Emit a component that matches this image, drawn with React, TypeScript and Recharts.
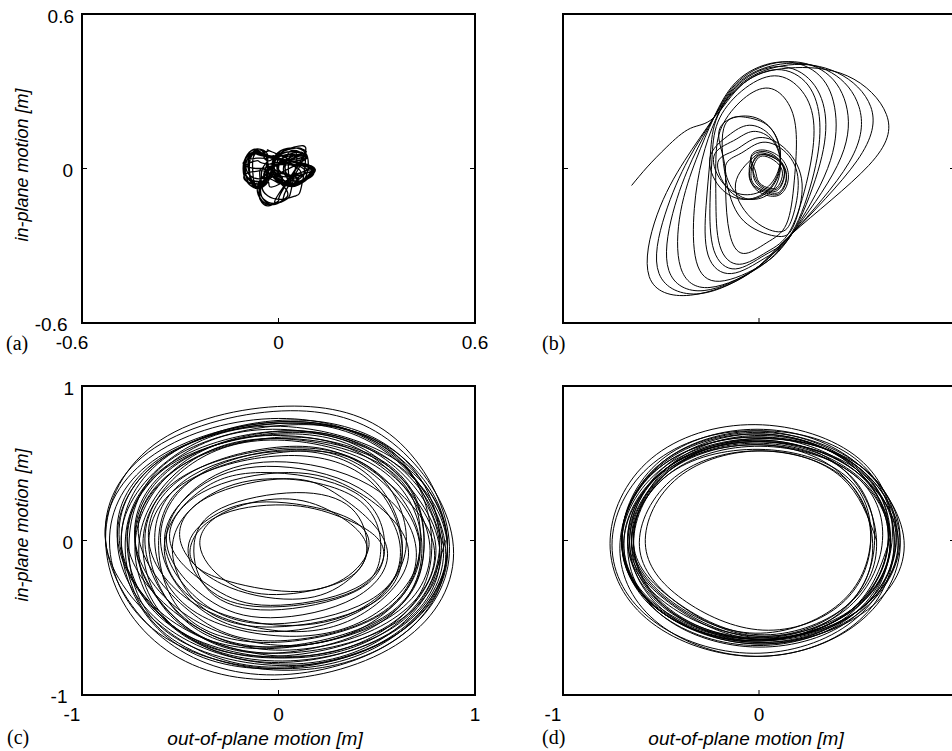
import React from 'react';
import { LineChart, Line, XAxis, YAxis } from 'recharts';

type Pair = [number, number];

// axis ticks
const ticksSmall = [-0.6, 0, 0.6];
const ticksUnit = [-1, 0, 1];

// (a) small response: two lobes, a small ear between them and a lower tail
const pathA: Pair[] = [
  [-0.020, 0.000], [-0.033, -0.054], [-0.064, -0.076], [-0.095, -0.054], [-0.108, 0.000], [-0.095, 0.054], [-0.064, 0.076], [-0.033, 0.054],
  [-0.039, 0.000], [-0.046, -0.050], [-0.064, -0.070], [-0.082, -0.050], [-0.089, 0.000], [-0.082, 0.050], [-0.064, 0.070], [-0.046, 0.050],
  [0.100, 0.010], [0.083, -0.040], [0.040, -0.060], [-0.003, -0.040], [-0.020, 0.010], [-0.003, 0.060], [0.040, 0.080], [0.083, 0.060],
  [0.090, 0.000], [0.077, -0.043], [0.045, -0.060], [0.013, -0.043], [0.000, 0.000], [0.013, 0.043], [0.045, 0.060], [0.077, 0.043],
  [0.025, -0.080], [0.012, -0.123], [-0.020, -0.140], [-0.052, -0.123], [-0.065, -0.080], [-0.052, -0.037], [-0.020, -0.020], [0.012, -0.037],
  [-0.026, 0.008], [-0.038, -0.035], [-0.066, -0.052], [-0.094, -0.035], [-0.106, 0.008], [-0.094, 0.051], [-0.066, 0.068], [-0.038, 0.051],
  [0.098, 0.010], [0.084, -0.018], [0.048, -0.030], [0.012, -0.018], [-0.002, 0.010], [0.012, 0.038], [0.048, 0.050], [0.084, 0.038],
  [-0.020, 0.010], [-0.032, -0.026], [-0.060, -0.040], [-0.088, -0.026], [-0.100, 0.010], [-0.088, 0.046], [-0.060, 0.060], [-0.032, 0.046],
  [0.097, 0.005], [0.081, -0.046], [0.042, -0.067], [0.003, -0.046], [-0.013, 0.005], [0.003, 0.056], [0.042, 0.077], [0.081, 0.056],
  [0.070, -0.070], [0.053, -0.106], [0.010, -0.120], [-0.033, -0.106], [-0.050, -0.070], [-0.033, -0.034], [0.010, -0.020], [0.053, -0.034],
  [-0.031, -0.005], [-0.041, -0.056], [-0.066, -0.077], [-0.091, -0.056], [-0.101, -0.005], [-0.091, 0.046], [-0.066, 0.067], [-0.041, 0.046],
  [-0.015, 0.050], [-0.019, 0.036], [-0.030, 0.030], [-0.041, 0.036], [-0.045, 0.050], [-0.041, 0.064], [-0.030, 0.070], [-0.019, 0.064],
  [0.080, 0.005], [0.071, -0.027], [0.050, -0.040], [0.029, -0.027], [0.020, 0.005], [0.029, 0.037], [0.050, 0.050], [0.071, 0.037],
  [0.010, -0.090], [0.000, -0.126], [-0.025, -0.140], [-0.050, -0.126], [-0.060, -0.090], [-0.050, -0.054], [-0.025, -0.040], [0.000, -0.054],
  [-0.050, 0.000], [-0.056, -0.053], [-0.070, -0.074], [-0.084, -0.053], [-0.090, 0.000], [-0.084, 0.053], [-0.070, 0.074], [-0.056, 0.053],
  [0.070, 0.005], [0.063, -0.041], [0.045, -0.060], [0.027, -0.041], [0.020, 0.005], [0.027, 0.051], [0.045, 0.070], [0.063, 0.051],
  [-0.020, 0.005], [-0.032, -0.041], [-0.062, -0.060], [-0.092, -0.041], [-0.104, 0.005], [-0.092, 0.051], [-0.062, 0.070], [-0.032, 0.051],
  [0.098, 0.000], [0.081, -0.046], [0.040, -0.065], [-0.001, -0.046], [-0.018, 0.000], [-0.001, 0.046], [0.040, 0.065], [0.081, 0.046],
  [-0.020, 0.020], [-0.033, 0.006], [-0.064, 0.000], [-0.095, 0.006], [-0.108, 0.020], [-0.095, 0.034], [-0.064, 0.040], [-0.033, 0.034],
  [-0.049, 0.000], [-0.053, -0.050], [-0.064, -0.070], [-0.075, -0.050], [-0.079, 0.000], [-0.075, 0.050], [-0.064, 0.070], [-0.053, 0.050],
  [0.095, 0.012], [0.081, -0.038], [0.045, -0.058], [0.009, -0.038], [-0.005, 0.012], [0.009, 0.062], [0.045, 0.082], [0.081, 0.062],
  [0.000, -0.100], [-0.009, -0.132], [-0.030, -0.145], [-0.051, -0.132], [-0.060, -0.100], [-0.051, -0.068], [-0.030, -0.055], [-0.009, -0.068],
  [0.095, 0.000], [0.083, -0.036], [0.055, -0.050], [0.027, -0.036], [0.015, 0.000], [0.027, 0.036], [0.055, 0.050], [0.083, 0.036],
  [-0.022, -0.035], [-0.034, -0.053], [-0.064, -0.060], [-0.094, -0.053], [-0.106, -0.035], [-0.094, -0.017], [-0.064, -0.010], [-0.034, -0.017],
  [0.025, -0.085], [0.013, -0.124], [-0.015, -0.140], [-0.043, -0.124], [-0.055, -0.085], [-0.043, -0.046], [-0.015, -0.030], [0.013, -0.046],
  [-0.018, -0.010], [-0.031, -0.038], [-0.062, -0.050], [-0.093, -0.038], [-0.106, -0.010], [-0.093, 0.018], [-0.062, 0.030], [-0.031, 0.018],
  [0.098, 0.005], [0.081, -0.048], [0.040, -0.070], [-0.001, -0.048], [-0.018, 0.005], [-0.001, 0.058], [0.040, 0.080], [0.081, 0.058],
  [-0.023, 0.005], [-0.033, -0.041], [-0.065, -0.060], [-0.083, -0.041], [-0.093, 0.005], [-0.083, 0.051], [-0.051, 0.070], [-0.033, 0.051],
  [0.060, 0.000], [0.056, -0.043], [0.045, -0.060], [0.034, -0.043], [0.030, 0.000], [0.034, 0.043], [0.045, 0.060], [0.056, 0.043],
  [0.040, -0.075], [0.026, -0.118], [-0.010, -0.135], [-0.046, -0.118], [-0.060, -0.075], [-0.046, -0.032], [-0.010, -0.015], [0.026, -0.032],
  [0.098, -0.005], [0.081, -0.048], [0.038, -0.065], [-0.005, -0.048], [-0.022, -0.005], [-0.005, 0.038], [0.038, 0.055], [0.081, 0.038],
  [-0.030, 0.000], [-0.039, -0.053], [-0.060, -0.075], [-0.081, -0.053], [-0.090, 0.000], [-0.081, 0.053], [-0.060, 0.075], [-0.039, 0.053],
  [-0.030, 0.000],
];

// (b) transient: tail, large tilted loops through a common pinch, then inner loops
const pathB: Pair[] = [
  [-0.65, -0.11], [-0.57, 0.01], [-0.47, 0.14], [-0.35, 0.26],
  [-0.23, 0.33], [-0.08, 0.55], [0.15, 0.65], [0.45, 0.60], [0.65, 0.35], [0.56, 0.02], [0.17, -0.42], [-0.05, -0.68], [-0.35, -0.82], [-0.56, -0.70], [-0.52, -0.30], [-0.38, 0.05],
  [-0.23, 0.33], [-0.08, 0.56], [0.15, 0.67], [0.40, 0.62], [0.57, 0.40], [0.50, 0.05], [0.17, -0.42], [-0.03, -0.66], [-0.30, -0.81], [-0.51, -0.68], [-0.48, -0.30], [-0.36, 0.06],
  [-0.23, 0.33], [-0.09, 0.57], [0.14, 0.68], [0.37, 0.62], [0.51, 0.40], [0.46, 0.04], [0.17, -0.42], [-0.02, -0.65], [-0.28, -0.79], [-0.46, -0.66], [-0.44, -0.29], [-0.34, 0.06],
  [-0.23, 0.33], [-0.10, 0.57], [0.12, 0.69], [0.34, 0.62], [0.45, 0.38], [0.40, 0.02], [0.17, -0.42], [0.00, -0.64], [-0.25, -0.77], [-0.40, -0.64], [-0.40, -0.28], [-0.32, 0.06],
  [-0.23, 0.33], [-0.10, 0.58], [0.12, 0.69], [0.31, 0.60], [0.39, 0.36], [0.35, 0.00], [0.17, -0.42], [0.02, -0.62], [-0.20, -0.73], [-0.32, -0.60], [-0.33, -0.26], [-0.29, 0.06],
  [-0.22, 0.32], [-0.10, 0.55], [0.10, 0.66], [0.27, 0.56], [0.34, 0.32], [0.30, -0.02], [0.17, -0.42], [0.03, -0.58], [-0.14, -0.68], [-0.26, -0.56], [-0.27, -0.24], [-0.25, 0.06],
  [-0.22, 0.31], [-0.10, 0.53], [0.09, 0.64], [0.25, 0.54], [0.31, 0.30], [0.28, -0.03], [0.17, -0.41], [0.03, -0.56], [-0.12, -0.65], [-0.23, -0.53], [-0.25, -0.22], [-0.24, 0.06],
  [-0.21, 0.30], [-0.09, 0.50], [0.08, 0.60], [0.22, 0.50], [0.28, 0.28], [0.25, -0.05], [0.16, -0.40], [0.04, -0.54], [-0.10, -0.62], [-0.20, -0.50], [-0.22, -0.20], [-0.22, 0.06],
  [-0.19, 0.27], [-0.08, 0.45], [0.05, 0.52], [0.15, 0.42], [0.19, 0.22], [0.18, -0.08], [0.14, -0.36], [0.04, -0.48], [-0.08, -0.55], [-0.15, -0.42], [-0.17, -0.15], [-0.18, 0.06],
  [-0.20, 0.26], [-0.07, 0.34], [0.06, 0.26], [0.11, 0.07], [0.06, -0.12], [-0.07, -0.20], [-0.20, -0.12], [-0.25, 0.07],
  [-0.16, 0.21], [-0.05, 0.28], [0.06, 0.21], [0.11, 0.04], [0.06, -0.13], [-0.05, -0.20], [-0.16, -0.13], [-0.21, 0.04],
  [-0.12, 0.12], [0.00, 0.20], [0.14, 0.12], [0.22, -0.10], [0.18, -0.36], [0.10, -0.44], [-0.06, -0.36], [-0.16, -0.12],
  [-0.18, 0.26], [-0.06, 0.33], [0.06, 0.26], [0.11, 0.08], [0.06, -0.10], [-0.06, -0.17], [-0.18, -0.10], [-0.23, 0.08],
  [-0.13, 0.18], [-0.03, 0.24], [0.07, 0.18], [0.11, 0.02], [0.07, -0.14], [-0.03, -0.20], [-0.13, -0.14], [-0.17, 0.02],
  [-0.09, 0.10], [0.02, 0.17], [0.14, 0.10], [0.20, -0.08], [0.17, -0.32], [0.10, -0.41], [-0.04, -0.32], [-0.12, -0.10],
  [-0.03, 0.07], [0.02, 0.10], [0.10, 0.06], [0.14, -0.04], [0.12, -0.13], [0.07, -0.16], [-0.02, -0.11], [-0.04, -0.02],
  [-0.02, 0.07], [0.03, 0.09], [0.10, 0.05], [0.13, -0.03], [0.11, -0.12], [0.06, -0.15], [-0.01, -0.10], [-0.03, -0.01],
  [-0.01, 0.06], [0.03, 0.08], [0.09, 0.04], [0.12, -0.03], [0.10, -0.11], [0.06, -0.13], [0.00, -0.09], [-0.02, -0.01],
  [-0.04, 0.07], [0.02, 0.11], [0.10, 0.06], [0.14, -0.05], [0.12, -0.14], [0.07, -0.17], [-0.02, -0.12], [-0.05, -0.03],
  [-0.02, 0.06], [0.03, 0.09], [0.10, 0.05], [0.13, -0.02], [0.11, -0.11], [0.06, -0.14], [0.00, -0.10], [-0.03, -0.02],
  [-0.04, 0.08], [0.02, 0.12], [0.11, 0.07], [0.15, -0.04], [0.13, -0.14], [0.07, -0.18], [-0.02, -0.13], [-0.05, -0.02],
  [-0.04, 0.07],
];

// (c) broad irregular orbit, listed half-turn by half-turn (lower half, then upper half)
const pathC: Pair[] = [
  [0.85, 0.00], [0.61, -0.54], [-0.01, -0.76], [-0.55, -0.54],
  [-0.82, 0.02], [-0.58, 0.55], [0.07, 0.76], [0.62, 0.55],
  [0.86, -0.03], [0.61, -0.60], [0.03, -0.83], [-0.61, -0.60],
  [-0.86, -0.01], [-0.61, 0.54], [0.05, 0.77], [0.59, 0.54],
  [0.84, -0.04], [0.61, -0.57], [0.02, -0.78], [-0.53, -0.57],
  [-0.73, -0.02], [-0.51, 0.48], [-0.03, 0.68], [0.57, 0.48],
  [0.74, -0.05], [0.53, -0.50], [-0.06, -0.69], [-0.49, -0.50],
  [-0.66, -0.03], [-0.47, 0.38], [0.05, 0.55], [0.47, 0.38],
  [0.63, -0.06], [0.46, -0.42], [-0.03, -0.56], [-0.40, -0.42],
  [-0.54, -0.04], [-0.38, 0.27], [-0.03, 0.40], [0.40, 0.27],
  [0.52, -0.07], [0.38, -0.33], [-0.03, -0.43], [-0.34, -0.33],
  [-0.46, -0.05], [-0.33, 0.16], [-0.06, 0.25], [0.33, 0.16],
  [0.46, -0.04], [0.33, -0.25], [0.06, -0.33], [-0.29, -0.25],
  [-0.45, -0.09], [-0.32, 0.15], [0.03, 0.23], [0.32, 0.15],
  [0.53, -0.04], [0.39, -0.31], [-0.04, -0.42], [-0.33, -0.31],
  [-0.55, -0.02], [-0.39, 0.31], [0.05, 0.44], [0.41, 0.31],
  [0.66, -0.05], [0.48, -0.43], [0.09, -0.59], [-0.40, -0.43],
  [-0.66, -0.01], [-0.46, 0.43], [0.09, 0.61], [0.50, 0.43],
  [0.79, -0.03], [0.58, -0.51], [0.02, -0.71], [-0.48, -0.51],
  [-0.77, 0.00], [-0.54, 0.51], [-0.03, 0.72], [0.58, 0.51],
  [0.86, -0.04], [0.62, -0.59], [-0.01, -0.82], [-0.56, -0.59],
  [-0.88, -0.01], [-0.63, 0.56], [0.00, 0.79], [0.59, 0.56],
  [0.86, -0.03], [0.62, -0.58], [0.05, -0.81], [-0.58, -0.58],
  [-0.76, 0.01], [-0.53, 0.54], [0.10, 0.75], [0.61, 0.54],
  [0.78, -0.05], [0.56, -0.55], [-0.04, -0.75], [-0.54, -0.55],
  [-0.71, -0.02], [-0.50, 0.46], [-0.04, 0.66], [0.56, 0.46],
  [0.72, -0.04], [0.52, -0.48], [-0.04, -0.66], [-0.48, -0.48],
  [-0.61, 0.00], [-0.42, 0.41], [0.13, 0.58], [0.52, 0.41],
  [0.65, -0.03], [0.47, -0.40], [0.07, -0.55], [-0.41, -0.40],
  [-0.58, -0.02], [-0.41, 0.31], [-0.09, 0.44], [0.39, 0.31],
  [0.54, -0.05], [0.39, -0.33], [-0.04, -0.45], [-0.35, -0.33],
  [-0.43, -0.03], [-0.29, 0.21], [0.09, 0.31], [0.37, 0.21],
  [0.45, -0.05], [0.33, -0.26], [-0.01, -0.35], [-0.27, -0.26],
  [-0.40, -0.03], [-0.28, 0.18], [0.02, 0.27], [0.28, 0.18],
  [0.45, -0.04], [0.33, -0.28], [0.07, -0.38], [-0.29, -0.28],
  [-0.50, 0.00], [-0.36, 0.28], [0.04, 0.40], [0.32, 0.28],
  [0.55, -0.04], [0.39, -0.37], [-0.04, -0.50], [-0.37, -0.37],
  [-0.57, -0.01], [-0.40, 0.36], [-0.02, 0.51], [0.46, 0.36],
  [0.70, -0.05], [0.51, -0.48], [-0.02, -0.65], [-0.43, -0.48],
  [-0.71, 0.01], [-0.50, 0.48], [0.05, 0.67], [0.52, 0.48],
  [0.80, -0.03], [0.58, -0.54], [0.07, -0.75], [-0.52, -0.54],
  [-0.81, 0.00], [-0.58, 0.54], [0.05, 0.76], [0.58, 0.54],
  [0.85, -0.05], [0.61, -0.63], [-0.02, -0.87], [-0.59, -0.63],
  [-0.88, 0.00], [-0.63, 0.60], [0.06, 0.84], [0.61, 0.60],
  [0.89, -0.04], [0.63, -0.65], [-0.04, -0.90], [-0.63, -0.65],
  [-0.88, 0.01], [-0.60, 0.65], [0.08, 0.87], [0.62, 0.63],
  [0.87, -0.04], [0.63, -0.61], [0.06, -0.84], [-0.57, -0.61],
  [-0.78, -0.01], [-0.55, 0.50], [0.05, 0.71], [0.59, 0.50],
  [0.83, -0.03], [0.60, -0.53], [0.00, -0.73], [-0.50, -0.53],
  [-0.73, 0.00], [-0.51, 0.47], [-0.01, 0.66], [0.57, 0.47],
  [0.74, -0.06], [0.53, -0.51], [-0.06, -0.70], [-0.53, -0.51],
  [-0.69, -0.02], [-0.48, 0.42], [0.09, 0.60], [0.52, 0.42],
  [0.72, -0.04], [0.52, -0.45], [0.09, -0.62], [-0.44, -0.45],
  [-0.63, 0.02], [-0.44, 0.42], [0.05, 0.58], [0.46, 0.42],
  [0.63, -0.02], [0.46, -0.39], [-0.03, -0.54], [-0.40, -0.39],
  [-0.58, 0.00], [-0.41, 0.34], [-0.06, 0.48], [0.41, 0.34],
  [0.62, -0.05], [0.45, -0.43], [-0.02, -0.59], [-0.41, -0.43],
  [-0.60, -0.01], [-0.41, 0.42], [0.09, 0.59], [0.49, 0.42],
  [0.72, -0.04], [0.52, -0.49], [0.06, -0.68], [-0.46, -0.49],
  [-0.73, 0.00], [-0.52, 0.50], [0.07, 0.70], [0.54, 0.50],
  [0.82, -0.05], [0.59, -0.58], [0.00, -0.79], [-0.51, -0.58],
  [-0.80, -0.02], [-0.56, 0.52], [-0.03, 0.74], [0.60, 0.52],
  [0.86, -0.03], [0.61, -0.60], [-0.04, -0.83], [-0.59, -0.60],
  [-0.80, 0.00], [-0.56, 0.55], [0.06, 0.78], [0.62, 0.55],
  [0.82, -0.04], [0.59, -0.55], [0.06, -0.76], [-0.55, -0.55],
  [-0.77, -0.01], [-0.55, 0.49], [0.05, 0.69], [0.53, 0.49],
  [0.77, -0.03], [0.56, -0.50], [-0.01, -0.69], [-0.48, -0.50],
  [-0.68, 0.01], [-0.48, 0.46], [-0.04, 0.65], [0.52, 0.46],
  [0.73, -0.05], [0.52, -0.53], [-0.05, -0.73], [-0.50, -0.53],
  [-0.73, -0.01], [-0.51, 0.50], [0.07, 0.71], [0.57, 0.50],
  [0.82, -0.04], [0.59, -0.58], [0.05, -0.80], [-0.55, -0.58],
  [-0.82, -0.01], [-0.58, 0.54], [0.06, 0.77], [0.60, 0.54],
  [0.84, -0.03],
];

// (d) settled, narrow-band orbit
const pathD: Pair[] = [
  [0.67, 0.02], [0.47, -0.45], [0.00, -0.64], [-0.44, -0.42], [-0.66, -0.03], [-0.47, 0.45], [0.00, 0.64], [0.47, 0.45],
  [0.66, 0.02], [0.47, -0.45], [0.01, -0.64], [-0.45, -0.45], [-0.64, 0.00], [-0.45, 0.49], [0.01, 0.68], [0.47, 0.49],
  [0.66, 0.01], [0.46, -0.46], [-0.02, -0.65], [-0.50, -0.46], [-0.70, 0.01], [-0.50, 0.48], [-0.02, 0.67], [0.46, 0.48],
  [0.71, 0.01], [0.51, -0.45], [0.02, -0.64], [-0.47, -0.45], [-0.67, 0.01], [-0.47, 0.47], [0.02, 0.66], [0.51, 0.47],
  [0.67, -0.02], [0.48, -0.50], [0.00, -0.69], [-0.48, -0.50], [-0.67, -0.04], [-0.48, 0.46], [0.00, 0.65], [0.48, 0.46],
  [0.70, 0.02], [0.50, -0.46], [0.00, -0.66], [-0.50, -0.46], [-0.70, 0.00], [-0.50, 0.50], [0.00, 0.70], [0.50, 0.50],
  [0.72, 0.02], [0.51, -0.47], [0.01, -0.67], [-0.49, -0.47], [-0.70, 0.00], [-0.49, 0.51], [0.01, 0.71], [0.51, 0.51],
  [0.69, -0.03], [0.49, -0.54], [-0.01, -0.75], [-0.51, -0.54], [-0.71, -0.05], [-0.51, 0.48], [-0.01, 0.69], [0.49, 0.48],
  [0.69, -0.01], [0.48, -0.52], [-0.03, -0.73], [-0.54, -0.52], [-0.75, -0.03], [-0.54, 0.50], [-0.03, 0.71], [0.48, 0.50],
  [0.72, 0.00], [0.51, -0.53], [-0.02, -0.75], [-0.55, -0.53], [-0.76, -0.02], [-0.55, 0.53], [-0.02, 0.75], [0.51, 0.53],
  [0.68, 0.02], [0.48, -0.48], [-0.01, -0.68], [-0.50, -0.48], [-0.70, 0.00], [-0.50, 0.52], [-0.01, 0.72], [0.48, 0.52],
  [0.74, 0.00], [0.53, -0.47], [0.02, -0.66], [-0.49, -0.47], [-0.70, -0.02], [-0.49, 0.47], [0.02, 0.66], [0.53, 0.47],
  [0.70, 0.01], [0.50, -0.46], [0.00, -0.65], [-0.50, -0.46], [-0.70, -0.01], [-0.50, 0.48], [0.00, 0.67], [0.50, 0.48],
  [0.71, 0.00], [0.51, -0.45], [0.01, -0.64], [-0.49, -0.45], [-0.69, -0.02], [-0.49, 0.45], [0.01, 0.64], [0.51, 0.45],
  [0.66, 0.01], [0.47, -0.47], [0.00, -0.67], [-0.47, -0.47], [-0.66, -0.01], [-0.47, 0.49], [0.00, 0.69], [0.47, 0.49],
  [0.67, 0.01], [0.48, -0.44], [0.00, -0.62], [-0.46, -0.42], [-0.67, -0.01], [-0.48, 0.46], [0.00, 0.64], [0.48, 0.46],
  [0.67, -0.01], [0.47, -0.46], [-0.01, -0.64], [-0.49, -0.46], [-0.69, -0.03], [-0.49, 0.44], [-0.01, 0.62], [0.47, 0.44],
  [0.67, -0.01], [0.48, -0.45], [0.01, -0.63], [-0.43, -0.42], [-0.65, -0.03], [-0.46, 0.43], [0.01, 0.61], [0.48, 0.43],
  [0.63, 0.00], [0.44, -0.45], [-0.01, -0.63], [-0.46, -0.45], [-0.65, -0.02], [-0.46, 0.45], [-0.01, 0.63], [0.44, 0.45],
  [0.59, 0.00], [0.43, -0.45], [0.00, -0.65], [-0.45, -0.46], [-0.64, -0.02], [-0.45, 0.46], [0.00, 0.65], [0.43, 0.46],
  [0.60, -0.01], [0.44, -0.43], [0.00, -0.61], [-0.42, -0.40], [-0.64, -0.03], [-0.47, 0.42], [0.00, 0.59], [0.44, 0.42],
  [0.57, 0.01], [0.41, -0.41], [-0.02, -0.60], [-0.44, -0.40], [-0.65, -0.01], [-0.47, 0.44], [-0.02, 0.62], [0.41, 0.44],
  [0.58, -0.02], [0.43, -0.44], [0.01, -0.62], [-0.40, -0.42], [-0.61, -0.04], [-0.43, 0.41], [0.01, 0.58], [0.43, 0.41],
  [0.57, 0.00], [0.42, -0.41], [0.02, -0.58], [-0.39, -0.38], [-0.58, -0.02], [-0.41, 0.41], [0.02, 0.58], [0.42, 0.41],
  [0.60, 0.00],
];

const SANS = '"Liberation Sans", Arial, Helvetica, sans-serif';
const SERIF = '"Liberation Serif", "Times New Roman", Times, serif';
const TICK_FONT = 19;

const toRows = (p: Pair[]) => p.map(([x, y]) => ({ x, y }));

interface PanelProps {
  left: number;
  top: number;
  width: number;
  height: number;
  // plot-area edges measured from the panel box
  inset: { top: number; right: number; bottom: number; left: number };
  path: Pair[];
  domain: [number, number];
  ticks: number[];
  xLabels: boolean;
  yLabels: boolean;
  lastXLabel: boolean;
  lineWidth?: number;
}

function Panel({ left, top, width, height, inset, path, domain, ticks, xLabels, yLabels, lastXLabel, lineWidth = 1 }: PanelProps) {
  const [lo, hi] = domain;
  const data = toRows(path);
  const frame = { stroke: '#000', strokeWidth: 2, strokeLinecap: 'square' as const };
  // every axis takes a 1px band, so the chart margins are one pixel smaller
  const margin = {
    top: inset.top - 1,
    right: inset.right - 1,
    bottom: inset.bottom - 1,
    left: inset.left - 1,
  };

  const bottomTick = (p: any) => {
    const { x, y, payload } = p;
    const v = payload.value as number;
    const showText = xLabels && (v !== hi || lastXLabel);
    return (
      <g>
        {v !== lo && v !== hi && <line x1={x} y1={y} x2={x} y2={y - 5} stroke="#000" strokeWidth={1} />}
        {showText && (
          <text x={v === lo ? x - 10 : x} y={y + 26} textAnchor="middle" fontFamily={SANS} fontSize={TICK_FONT} fill="#000">
            {String(v)}
          </text>
        )}
      </g>
    );
  };

  const leftTick = (p: any) => {
    const { x, y, payload } = p;
    const v = payload.value as number;
    const tx = v === lo ? x - 14.5 : v === hi ? x - 8 : x - 9;
    const ty = v === lo ? y + 8 : v === hi ? y + 9 : y + 8;
    return (
      <g>
        {v !== lo && v !== hi && <line x1={x} y1={y} x2={x + 5} y2={y} stroke="#000" strokeWidth={1} />}
        {yLabels && (
          <text x={tx} y={ty} textAnchor="end" fontFamily={SANS} fontSize={TICK_FONT} fill="#000">
            {String(v)}
          </text>
        )}
      </g>
    );
  };

  const topTick = (p: any) => (
    <line x1={p.x} y1={p.y} x2={p.x} y2={p.y + 5} stroke="#000" strokeWidth={1} />
  );
  const rightTick = (p: any) => (
    <line x1={p.x} y1={p.y} x2={p.x - 5} y2={p.y} stroke="#000" strokeWidth={1} />
  );

  return (
    <div style={{ position: 'absolute', left, top, width, height }}>
      <LineChart width={width} height={height} data={data} margin={margin}>
        <XAxis
          dataKey="x"
          type="number"
          domain={domain}
          ticks={ticks}
          interval={0}
          allowDataOverflow
          height={1}
          tickSize={0}
          tickMargin={0}
          tickLine={false}
          axisLine={frame}
          tick={bottomTick}
        />
        <XAxis
          xAxisId="top"
          orientation="top"
          type="number"
          domain={domain}
          ticks={[0]}
          interval={0}
          allowDataOverflow
          height={1}
          tickSize={0}
          tickMargin={0}
          tickLine={false}
          axisLine={frame}
          tick={topTick}
        />
        <YAxis
          dataKey="y"
          type="number"
          domain={domain}
          ticks={ticks}
          interval={0}
          allowDataOverflow
          width={1}
          tickSize={0}
          tickMargin={0}
          tickLine={false}
          axisLine={frame}
          tick={leftTick}
        />
        <YAxis
          yAxisId="right"
          orientation="right"
          type="number"
          domain={domain}
          ticks={[0]}
          interval={0}
          allowDataOverflow
          width={1}
          tickSize={0}
          tickMargin={0}
          tickLine={false}
          axisLine={frame}
          tick={rightTick}
        />
        <Line
          dataKey="y"
          type="natural"
          dot={false}
          activeDot={false}
          stroke="#000"
          strokeWidth={lineWidth}
          isAnimationActive={false}
        />
      </LineChart>
    </div>
  );
}

export default function App() {
  const upper = { top: 14, bottom: 47 };
  const lower = { top: 16, bottom: 56 };
  const leftCol = { left: 82, right: 45 };
  const rightCol = { left: 43, right: 5 };
  return (
    <div
      style={{
        position: 'absolute',
        left: 0,
        top: 0,
        width: 952,
        height: 751,
        overflow: 'hidden',
        background: '#fff',
      }}
    >
      <Panel left={0} top={0} width={520} height={370} inset={{ ...upper, ...leftCol }} path={pathA}
        domain={[-0.6, 0.6]} ticks={ticksSmall} xLabels yLabels lastXLabel lineWidth={1.3} />
      <Panel left={520} top={0} width={440} height={370} inset={{ ...upper, ...rightCol }} path={pathB}
        domain={[-1, 1]} ticks={ticksUnit} xLabels={false} yLabels={false} lastXLabel={false} />
      <Panel left={0} top={370} width={520} height={381} inset={{ ...lower, ...leftCol }} path={pathC}
        domain={[-1, 1]} ticks={ticksUnit} xLabels yLabels lastXLabel />
      <Panel left={520} top={370} width={440} height={381} inset={{ ...lower, ...rightCol }} path={pathD}
        domain={[-1, 1]} ticks={ticksUnit} xLabels yLabels={false} lastXLabel={false} />

      <svg width={952} height={751} style={{ position: 'absolute', left: 0, top: 0, pointerEvents: 'none' }}>
        <g fontFamily={SERIF} fontSize={20} fill="#000">
          <text x={6} y={350}>(a)</text>
          <text x={542} y={350}>(b)</text>
          <text x={7} y={744}>(c)</text>
          <text x={542} y={744}>(d)</text>
        </g>
        <g fontFamily={SANS} fontStyle="italic" fill="#000">
          <text transform="translate(28,165) rotate(-90)" textAnchor="middle" fontSize={18}>in-plane motion [m]</text>
          <text transform="translate(28,525) rotate(-90)" textAnchor="middle" fontSize={18}>in-plane motion [m]</text>
          <text x={265} y={745} textAnchor="middle" fontSize={19}>out-of-plane motion [m]</text>
          <text x={746} y={745} textAnchor="middle" fontSize={19}>out-of-plane motion [m]</text>
        </g>
      </svg>
    </div>
  );
}
